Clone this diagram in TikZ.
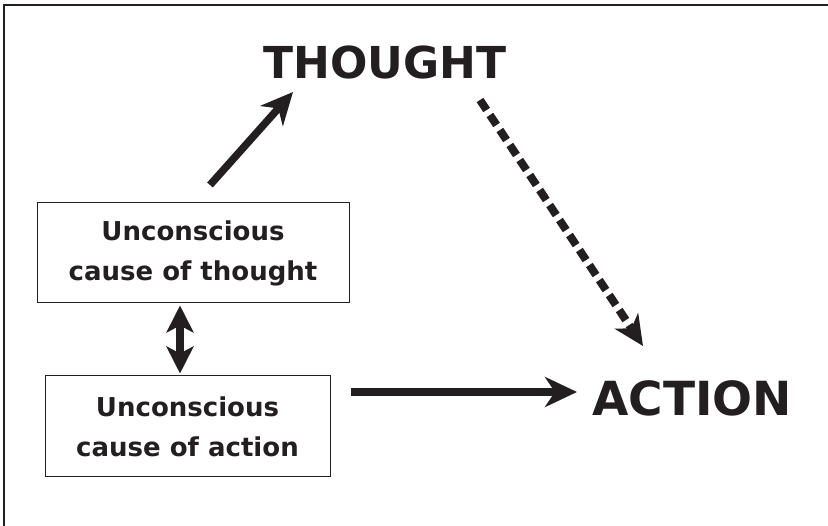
\documentclass[tikz,border=0pt]{standalone}
\usepackage{fontspec}
\setmainfont{DejaVu Sans}
\usetikzlibrary{arrows.meta,calc}
\definecolor{ink}{HTML}{231F20}
\begin{document}
\begin{tikzpicture}[x=1pt,y=-1pt,
  box/.style={draw=ink,line width=1pt,fill=white,align=center,inner sep=0pt,
    font=\fontsize{26}{40}\selectfont\bfseries,text=ink},
  big/.style={font=\fontsize{44}{44}\selectfont\bfseries,text=ink,inner sep=0pt},
  arr/.style={draw=ink,line width=7.5pt,-{Stealth[length=32pt,width=30pt,inset=10pt]}},
  darr/.style={draw=ink,line width=8pt,{Stealth[length=27pt,width=27pt,inset=7pt]}-{Stealth[length=27pt,width=27pt,inset=7pt]}},
  dasharr/.style={draw=ink,line width=8pt,dash pattern=on 12pt off 6pt,-{Stealth[length=30pt,width=28pt,inset=9pt]}}
]
\useasboundingbox (0,0) rectangle (828,526);
\fill[white] (0,0) rectangle (828,526);
\draw[ink,line width=2pt] (4,526) -- (4,5.5) -- (828,5.5);

\node[big] (thought) at (385,62) {THOUGHT};
\node[big,font=\fontsize{47}{47}\selectfont\bfseries] (action) at (692,398) {ACTION};
\node[box,minimum width=312pt,minimum height=100pt] (uct) at (193,253) {Unconscious\\cause of thought};
\node[box,minimum width=285pt,minimum height=101pt] (uca) at (187.5,426.5) {Unconscious\\cause of action};

\coordinate (a1s) at (210,185);
\coordinate (a1e) at (293,92);
\draw[arr] (a1s) -- (a1e);

\coordinate (d1s) at (480,100);
\coordinate (d1e) at (643,346);
\draw[dasharr] (d1s) -- (d1e);

\draw[darr] ($(uct.south -| 180,0)+(0,2)$) -- ($(uca.north -| 180,0)+(0,-2)$);

\draw[arr] ($(uca.east |- 0,392)+(20,0)$) -- (577,392);
\end{tikzpicture}
\end{document}
